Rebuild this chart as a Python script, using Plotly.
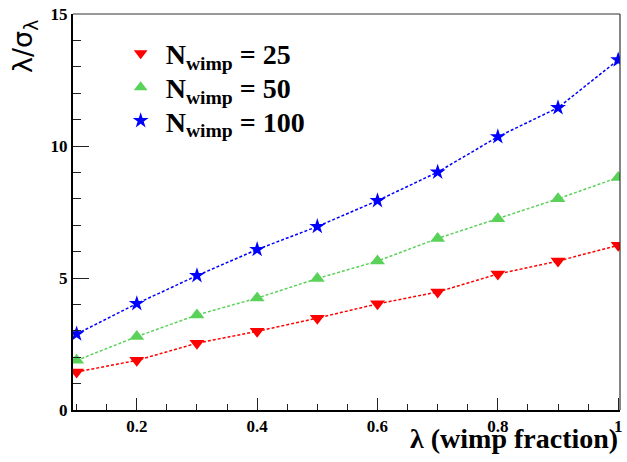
import plotly.graph_objects as go

# wimp fraction lambda and significance lambda/sigma_lambda for three wimp counts
lam = [0.1, 0.2, 0.3, 0.4, 0.5, 0.6, 0.7, 0.8, 0.9, 1.0]
sig_25 = [1.44, 1.88, 2.53, 2.98, 3.48, 4.02, 4.47, 5.15, 5.64, 6.24]
sig_50 = [1.88, 2.78, 3.60, 4.24, 4.98, 5.64, 6.50, 7.24, 8.00, 8.81]
sig_100 = [2.88, 4.03, 5.09, 6.08, 6.95, 7.93, 9.01, 10.35, 11.45, 13.26]

labels = ["25", "50", "100"]
x_ticks = [0.2, 0.4, 0.6, 0.8, 1.0]
x_tick_text = ["<b>0.2</b>", "<b>0.4</b>", "<b>0.6</b>", "<b>0.8</b>", "<b>1</b>"]
y_ticks = [0, 5, 10, 15]
y_tick_text = ["<b>0</b>", "<b>5</b>", "<b>10</b>", "<b>15</b>"]

series = [
    (sig_25, "#ff0000", "triangle-down", 13),
    (sig_50, "#5ad25a", "triangle-up", 13),
    (sig_100, "#0000ff", "star", 12),
]

SERIF = "Liberation Serif"
legend_ids = ["legend", "legend2", "legend3"]
legend_rows = [0.900, 0.814, 0.730]

fig = go.Figure()
for (vals, color, symbol, size), n, lg in zip(series, labels, legend_ids):
    # dashed connecting line (not in legend)
    fig.add_trace(go.Scatter(
        x=lam, y=vals, mode="lines",
        line=dict(color=color, width=1.5, dash="3px,2px"),
        showlegend=False, hoverinfo="skip",
    ))
    fig.add_trace(go.Scatter(
        x=lam, y=vals, mode="markers",
        marker=dict(color=color, symbol=symbol, size=size, line=dict(width=0)),
        name=f"<b>N<sub>wimp</sub> = {n}</b>",
        legend=lg,
    ))

legend_style = dict(
    x=0.078, xanchor="left", yanchor="middle",
    bgcolor="rgba(0,0,0,0)",
    font=dict(family=SERIF, size=28, color="black"),
    itemsizing="constant", itemwidth=40,
)

fig.update_layout(
    width=627, height=462,
    margin=dict(l=73, r=5, t=11, b=52),
    paper_bgcolor="white", plot_bgcolor="white",
    font=dict(family=SERIF, color="black"),
    legend=dict(y=legend_rows[0], **legend_style),
    legend2=dict(y=legend_rows[1], **legend_style),
    legend3=dict(y=legend_rows[2], **legend_style),
    xaxis=dict(
        range=[0.094, 1.003],
        tickvals=x_ticks, ticktext=x_tick_text,
        ticks="inside", ticklen=12, tickwidth=1.2, tickcolor="#222",
        minor=dict(dtick=0.05, tick0=0, ticks="inside", ticklen=6,
                   tickwidth=1.2, tickcolor="#222"),
        tickfont=dict(family=SERIF, size=17, color="black"),
        showline=True, linecolor="black", linewidth=2,
        showgrid=False, zeroline=False,
    ),
    yaxis=dict(
        range=[0, 15],
        tickvals=y_ticks, ticktext=y_tick_text,
        ticks="inside", ticklen=16, tickwidth=1.2, tickcolor="#222",
        minor=dict(dtick=1, tick0=0, ticks="inside", ticklen=8,
                   tickwidth=1.2, tickcolor="#222"),
        tickfont=dict(family=SERIF, size=17, color="black"),
        showline=True, linecolor="black", linewidth=2,
        showgrid=False, zeroline=False,
    ),
)

# thin frame on the top and right sides
fig.add_shape(type="line", xref="x domain", yref="y domain",
              x0=0, x1=1, y0=1, y1=1, line=dict(color="#333", width=1.2))
fig.add_shape(type="line", xref="x domain", yref="y domain",
              x0=1, x1=1, y0=0, y1=1, line=dict(color="#333", width=1.2))

# axis titles in the corners
fig.add_annotation(
    text="<b>λ (wimp fraction)</b>", xref="paper", yref="paper",
    x=1, y=0, xanchor="right", yanchor="top", yshift=-11,
    showarrow=False, font=dict(family=SERIF, size=28, color="black"),
)
fig.add_annotation(
    text="λ/σ<sub>λ</sub>", xref="paper", yref="paper",
    x=0, y=1, xanchor="right", yanchor="top", xshift=-29, yshift=-4,
    textangle=-90, showarrow=False,
    font=dict(family="DejaVu Sans", size=27, color="black"),
)

fig.write_html("out.html")
